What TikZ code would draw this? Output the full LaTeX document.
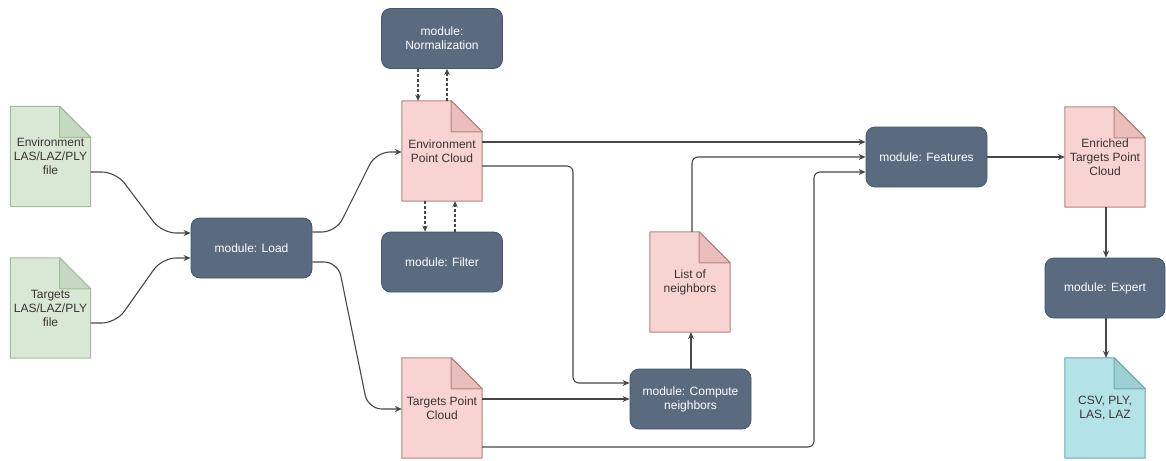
\documentclass[tikz,border=0pt]{standalone}
\usepackage{fontspec}
\setmainfont{Liberation Sans}
\usetikzlibrary{arrows.meta,backgrounds}
\definecolor{modfill}{HTML}{5B6B7F}
\definecolor{moddraw}{HTML}{46566A}
\definecolor{pinkfill}{HTML}{F7D3D2}
\definecolor{pinkdraw}{HTML}{B8847F}
\definecolor{pinkfold}{HTML}{EABEBC}
\definecolor{greenfill}{HTML}{D9E8D5}
\definecolor{greendraw}{HTML}{A0BD98}
\definecolor{greenfold}{HTML}{C6D8C2}
\definecolor{cyanfill}{HTML}{B3E3E6}
\definecolor{cyandraw}{HTML}{6FA9AD}
\definecolor{cyanfold}{HTML}{9DCFD3}
\definecolor{linecol}{HTML}{474747}
\definecolor{doctext}{HTML}{3A3333}
\newcommand\docshape[4]{%
  \filldraw[fill=#2, draw=#3, line width=1pt, line join=round] (#1.north west) -- ([xshift=-31pt]#1.north east) -- ([yshift=-31pt]#1.north east) -- (#1.south east) -- (#1.south west) -- cycle;
  \filldraw[fill=#4, draw=#3, line width=1pt, line join=round] ([xshift=-31pt]#1.north east) -- ([xshift=-31pt,yshift=-31pt]#1.north east) -- ([yshift=-31pt]#1.north east) -- cycle;
}
\tikzset{
  module/.style={rectangle, rounded corners=9pt, fill=modfill, draw=moddraw, line width=0.8pt,
    text=white, minimum width=121pt, minimum height=60pt, align=center,
    font=\fontsize{12}{14}\selectfont, inner sep=2pt},
  docnode/.style={rectangle, minimum width=80pt, minimum height=100pt, align=center,
    text=doctext, font=\fontsize{12}{14}\selectfont, inner sep=0pt},
  conn/.style={draw=linecol, line width=1.1pt, -{Stealth[length=7pt,width=6pt]}, rounded corners=6pt},
  curvy/.style={conn, rounded corners=14pt},
  dconn/.style={draw=linecol, line width=1.1pt, -{Stealth[length=6pt,width=5.5pt]}, dash pattern=on 3pt off 2pt}
}
\begin{document}
\begin{tikzpicture}[x=1pt,y=-1pt]
\useasboundingbox (0,0) rectangle (1166,460);

% documents
\node[docnode] (envfile) at (50.5,156.5) {Environment\\LAS/LAZ/PLY\\file};
\node[docnode] (tgtfile) at (50.5,308) {Targets\\LAS/LAZ/PLY\\file};
\node[docnode] (envpc) at (442,151) {Environment\\Point Cloud};
\node[docnode] (tgtpc) at (442,408) {Targets Point\\Cloud};
\node[docnode] (list) at (690,282) {List of\\neighbors};
\node[docnode] (enriched) at (1105,157) {Enriched\\Targets Point\\Cloud};
\node[docnode] (csv) at (1105,408) {CSV, PLY,\\LAS, LAZ};

\begin{scope}[on background layer]
  \fill[white] (0,0) rectangle (1166,460);
  \docshape{envfile}{greenfill}{greendraw}{greenfold}
  \docshape{tgtfile}{greenfill}{greendraw}{greenfold}
  \docshape{envpc}{pinkfill}{pinkdraw}{pinkfold}
  \docshape{tgtpc}{pinkfill}{pinkdraw}{pinkfold}
  \docshape{list}{pinkfill}{pinkdraw}{pinkfold}
  \docshape{enriched}{pinkfill}{pinkdraw}{pinkfold}
  \docshape{csv}{cyanfill}{cyandraw}{cyanfold}
\end{scope}

% modules
\node[module] (load) at (251.5,248) {module: Load};
\node[module] (norm) at (442,38.5) {module:\\Normalization};
\node[module] (filter) at (442,262) {module: Filter};
\node[module] (compute) at (690.5,399) {module: Compute\\neighbors};
\node[module] (features) at (926.5,157) {module: Features};
\node[module, minimum width=120pt] (expert) at (1105,288) {module: Expert};

% connectors
\draw[curvy] (envfile.east |- 0,172) -- (116,172) -- (162,233) -- (load.west |- 0,233);
\draw[curvy] (tgtfile.east |- 0,323) -- (116,323) -- (162,258) -- (load.west |- 0,258);
\draw[curvy] (load.east |- 0,232) -- (336,232) -- (376,152) -- (envpc.west |- 0,152);
\draw[curvy] (load.east |- 0,262) -- (338,262) -- (368,409) -- (tgtpc.west |- 0,409);

\draw[dconn] (norm.south -| 418,0) -- (envpc.north -| 418,0);
\draw[dconn] (envpc.north -| 447,0) -- (norm.south -| 447,0);
\draw[dconn] (envpc.south -| 425,0) -- (filter.north -| 425,0);
\draw[dconn] (filter.north -| 455,0) -- (envpc.south -| 455,0);

\draw[conn] (envpc.east |- 0,142) -- (features.west |- 0,142);
\draw[conn] (envpc.east |- 0,166) -- (573,166) -- (573,383) -- (compute.west |- 0,383);
\draw[conn] (tgtpc.east |- 0,399) -- (compute.west |- 0,399);
\draw[conn] (tgtpc.east |- 0,447) -- (814,447) -- (814,172) -- (features.west |- 0,172);
\draw[conn] (compute.north -| 691,0) -- (list.south -| 691,0);
\draw[conn] (list.north -| 692,0) -- (692,157) -- (features.west |- 0,157);
\draw[conn] (features.east) -- (enriched.west |- features.east);
\draw[conn] (enriched.south -| 1106,0) -- (expert.north -| 1106,0);
\draw[conn] (expert.south -| 1106,0) -- (csv.north -| 1106,0);
\end{tikzpicture}
\end{document}
